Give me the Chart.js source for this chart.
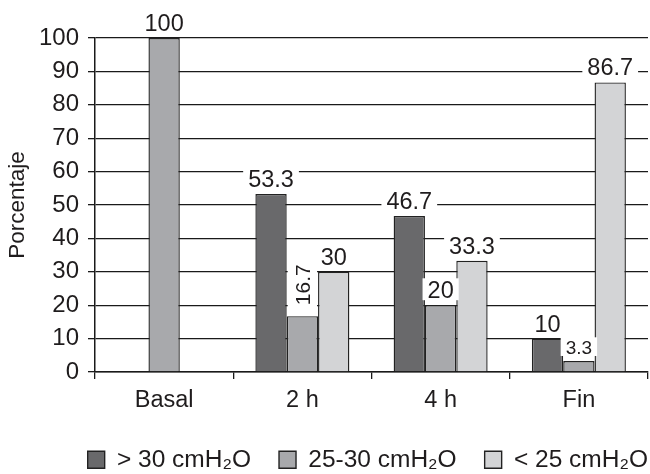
<!DOCTYPE html>
<html lang="es">
<head>
<meta charset="UTF-8" />
<title>Porcentaje por presión</title>
<style>
  body{margin:0;background:#fff;}
  #wrap{width:650px;height:474px;}
</style>
<script src="https://cdn.jsdelivr.net/npm/chart.js@4.4.0/dist/chart.umd.min.js"></script>
</head>
<body>
<div id="wrap"><canvas id="c" width="650" height="474"></canvas></div>
<script>
// datos
const categories = ['Basal', '2 h', '4 h', 'Fin'];
const seriesNames = ['> 30 cmH\u2082O', '25-30 cmH\u2082O', '< 25 cmH\u2082O'];
const over30 = [null, 53.3, 46.7, 10];
const from25to30 = [100, 16.7, 20, 3.3];
const under25 = [null, 30, 33.3, 86.7];
const yTicks = [0, 10, 20, 30, 40, 50, 60, 70, 80, 90, 100];

const FONT = '"Liberation Sans", Arial, Helvetica, sans-serif';
const INK = '#1f1c1d';
const fills = ['#69696b', '#a8a9ac', '#d3d4d6'];
const LEG_PAD = 28;
const LEG_FONT = 24.5;

// etiquetas de valor con fondo blanco (tapa la rejilla)
const valueLabels = {
  id: 'valueLabels',
  afterDatasetsDraw(chart) {
    const ctx = chart.ctx;
    chart.data.datasets.forEach((ds, i) => {
      chart.getDatasetMeta(i).data.forEach((bar, j) => {
        const v = ds.data[j];
        if (v == null) return;
        const txt = String(v);
        const key = i + ':' + j;
        const vertical = key === '1:1';
        const size = key === '1:3' ? 19 : (vertical ? 21 : 23.5);
        ctx.save();
        ctx.font = size + 'px ' + FONT;
        const w = ctx.measureText(txt).width;
        const cap = size * 0.72;
        if (vertical) {
          const base = bar.y - 11;
          ctx.fillStyle = '#fff';
          ctx.fillRect(bar.x - bar.width / 2 + 1, base - w - 4, bar.width - 2, w + 8);
          ctx.translate(bar.x + 2, base);
          ctx.rotate(-Math.PI / 2);
          ctx.fillStyle = INK;
          ctx.textAlign = 'left';
          ctx.textBaseline = 'middle';
          ctx.fillText(txt, 0, 0);
        } else {
          const base = bar.y - 7;
          ctx.fillStyle = '#fff';
          ctx.fillRect(bar.x - w / 2 - 5, base - cap - 3, w + 10, cap + 5);
          ctx.fillStyle = INK;
          ctx.textAlign = 'center';
          ctx.textBaseline = 'alphabetic';
          ctx.fillText(txt, bar.x, base);
        }
        ctx.restore();
      });
    });
  }
};

// desplaza la leyenda hacia la derecha, como en la figura
const legendShift = {
  id: 'legendShift',
  afterLayout(chart) {
    const lg = chart.legend;
    lg.left += LEG_PAD; lg.right += LEG_PAD;
    lg.top += 8; lg.bottom += 8;
  }
};

new Chart(document.getElementById('c'), {
  type: 'bar',
  data: {
    labels: categories,
    datasets: [over30, from25to30, under25].map((d, i) => ({
      label: seriesNames[i],
      data: d,
      backgroundColor: fills[i],
      borderColor: '#222',
      borderWidth: 1.4,
      borderSkipped: 'bottom',
      categoryPercentage: 0.68,
      barPercentage: 1
    }))
  },
  options: {
    responsive: false,
    animation: false,
    layout: {padding: {top: 38, right: 2, left: 0, bottom: 0}},
    plugins: {
      tooltip: {enabled: false},
      legend: {
        position: 'bottom',
        align: 'end',
        labels: {
          color: INK,
          font: {family: FONT, size: LEG_FONT},
          boxWidth: 17,
          boxHeight: 17,
          padding: LEG_PAD
        }
      }
    },
    scales: {
      x: {
        grid: {display: true, offset: true, drawOnChartArea: false, tickLength: 7, color: '#1a1a1a', lineWidth: 1.3},
        border: {display: true, color: '#1a1a1a', width: 1.5},
        ticks: {color: INK, font: {family: FONT, size: 23.5}, padding: 7},
        afterFit(s) { s.height = 474 - 372 - (LEG_FONT + LEG_PAD + 10); }
      },
      y: {
        min: 0, max: 100,
        afterBuildTicks(s) { s.ticks = yTicks.map(v => ({value: v})); },
        grid: {color: '#1a1a1a', lineWidth: 1.3, tickLength: 7},
        border: {display: true, color: '#1a1a1a', width: 1.5},
        ticks: {color: INK, font: {family: FONT, size: 24}, padding: 9},
        title: {display: true, text: 'Porcentaje', color: INK, font: {family: FONT, size: 22.5}, padding: {top: 4, bottom: 4}},
        afterFit(s) { s.width = 95; }
      }
    }
  },
  plugins: [valueLabels, legendShift]
});
</script>
</body>
</html>
